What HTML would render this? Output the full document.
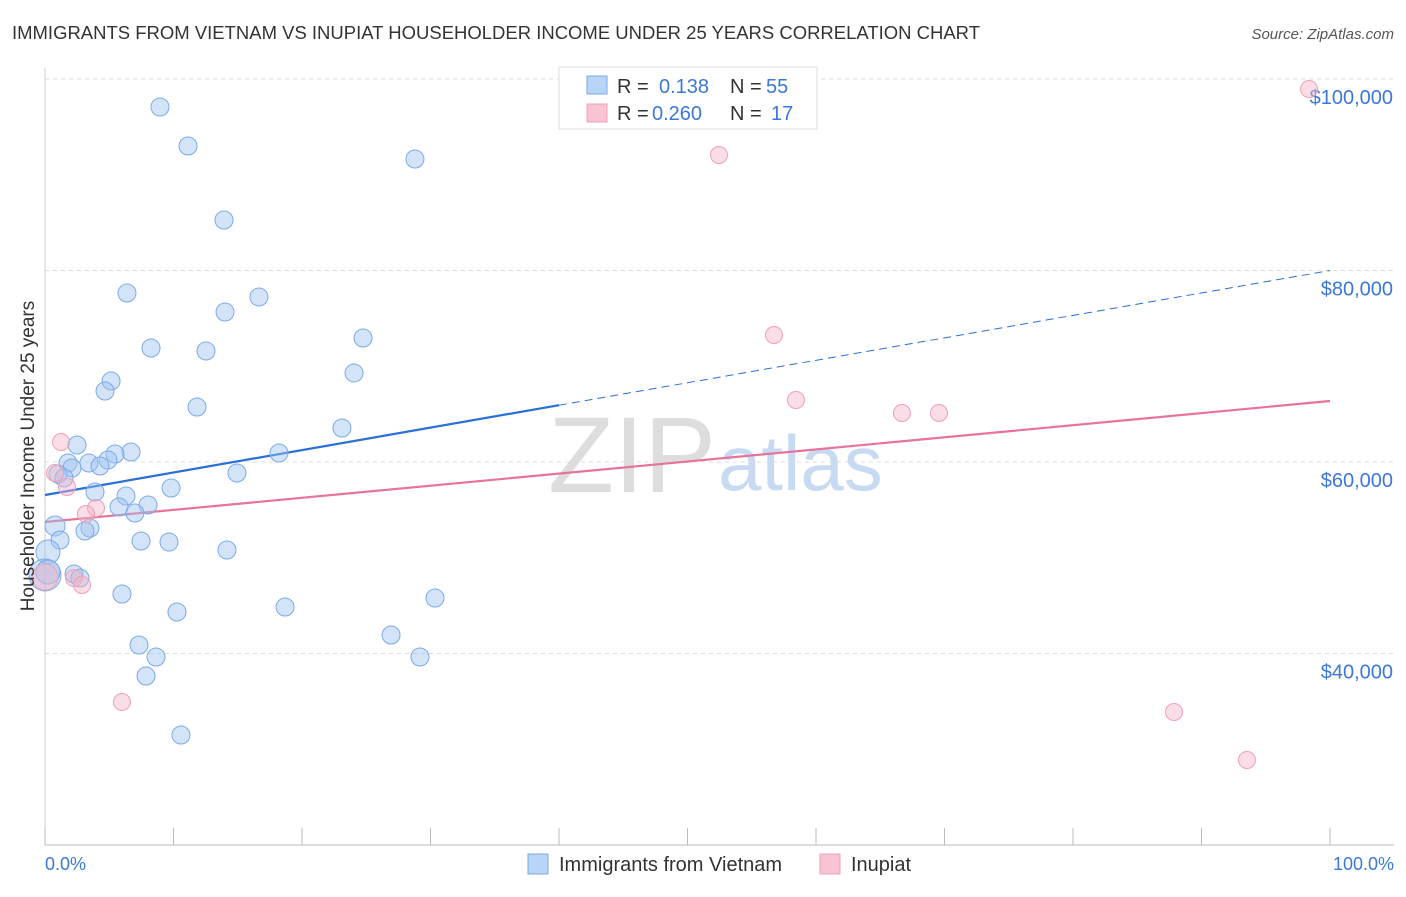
<!DOCTYPE html>
<html><head><meta charset="utf-8"><style>
body{margin:0;background:#fff;font-family:"Liberation Sans",sans-serif;}
svg text{font-family:"Liberation Sans",sans-serif;}
</style></head><body>
<svg id="chart" width="1406" height="892" viewBox="0 0 1406 892" xmlns="http://www.w3.org/2000/svg">
<text x="12" y="39" font-size="18" fill="#333" textLength="968" lengthAdjust="spacingAndGlyphs">IMMIGRANTS FROM VIETNAM VS INUPIAT HOUSEHOLDER INCOME UNDER 25 YEARS CORRELATION CHART</text>
<text x="1394" y="39" font-size="15" fill="#555" font-style="italic" text-anchor="end">Source: ZipAtlas.com</text>
<text x="716" y="492" font-size="108" fill="#ddd" font-family="Liberation Serif" text-anchor="end">ZIP</text>
<text x="718" y="490" font-size="78" fill="#c8daf2">atlas</text>
<g id="grid"></g>
<g id="axes"></g>
<g id="lines"></g>
<g id="points"></g>
<text transform="translate(34,456) rotate(-90)" font-size="19" fill="#333" text-anchor="middle">Householder Income Under 25 years</text>
<text x="45" y="870" font-size="18" fill="#3b78d8">0.0%</text>
<text x="1394" y="870" font-size="18" fill="#3b78d8" text-anchor="end">100.0%</text>
<g>
<rect x="559" y="67" width="258" height="62" fill="#fff" stroke="#ddd"/>
<rect x="587" y="76" width="20" height="18" fill="#b8d4f6" stroke="#7aaae8"/>
<text x="617" y="93" font-size="20" fill="#333">R = </text><text x="659" y="93" font-size="20" fill="#3b78d8">0.138</text>
<text x="730" y="93" font-size="20" fill="#333">N = </text><text x="766" y="93" font-size="20" fill="#3b78d8">55</text>
<rect x="587" y="104" width="20" height="18" fill="#f8c4d4" stroke="#eea0b8"/>
<text x="617" y="120" font-size="20" fill="#333">R = </text><text x="652" y="120" font-size="20" fill="#3b78d8">0.260</text>
<text x="730" y="120" font-size="20" fill="#333">N = </text><text x="771" y="120" font-size="20" fill="#3b78d8">17</text>
</g>
<g>
<rect x="528" y="854" width="20" height="20" fill="#b8d4f6" stroke="#7aaae8"/>
<text x="559" y="871" font-size="20" fill="#333">Immigrants from Vietnam</text>
<rect x="820" y="854" width="20" height="20" fill="#f8c4d4" stroke="#eea0b8"/>
<text x="851" y="871" font-size="20" fill="#333">Inupiat</text>
</g>
</svg>
<script>
const yTicks=[40000,60000,80000,100000];
const yTickLabels=["$40,000","$60,000","$80,000","$100,000"];
const xTicks=[0,10,20,30,40,50,60,70,80,90,100];
const blueX=[8.95,11.13,28.79,13.93,6.38,16.65,14.01,24.75,8.25,12.53,24.05,5.14,4.67,11.83,23.11,2.49,6.69,5.45,18.21,4.90,1.79,3.42,4.28,2.10,1.01,14.94,9.81,3.89,6.30,8.02,5.76,7.00,0.78,3.50,3.11,1.17,7.47,9.65,14.16,0.23,0,2.26,2.72,5.99,30.35,10.27,18.68,26.93,7.32,8.64,29.18,7.86,10.58,0.23,1.48];
const blueY=[97076,93003,91645,85274,77650,77232,75666,72950,71906,71593,69295,68460,67415,65744,63551,61775,61044,60836,60940,60209,59896,59896,59582,59373,58747,58851,57285,56867,56449,55509,55300,54673,53316,53107,52793,51853,51749,51644,50809,50600,48198,48302,47884,46213,45795,44333,44855,41931,40887,39634,39634,37649,31487,48511,58329];
const pinkX=[98.37,52.45,56.73,58.44,66.69,69.57,1.25,0.78,1.71,3.97,3.19,2.26,2.88,0,5.99,87.86,93.54];
const pinkY=[98956,92062,73263,66475,65117,65117,62088,58851,57389,55196,54569,47884,47153,47989,34934,33890,28877];
const blueTrend=[56554,80000];
const pinkTrend=[53734,66371];
const blueSolidEnd=40;
const NS="http://www.w3.org/2000/svg";
const xs=p=>45+p*12.85;
const ys=v=>79+(100000-v)/104.44;
function mk(tag,attrs,parent){const e=document.createElementNS(NS,tag);for(const k in attrs)e.setAttribute(k,attrs[k]);document.getElementById(parent).appendChild(e);return e;}
yTicks.forEach((v,i)=>{
  const l=mk('line',{x1:45,x2:1394,y1:ys(v),y2:ys(v),stroke:'#ddd','stroke-dasharray':'4,4'},'grid');
  
  
  const t=mk('text',{x:1393,y:ys(v)+25,'font-size':20,fill:'#3b78d8','text-anchor':'end'},'axes');
  t.textContent=yTickLabels[i];
  
  
});
const ax=mk('line',{x1:45,x2:1394,y1:845,y2:845,stroke:'#bbb'},'axes');


const ay=mk('line',{x1:45,x2:45,y1:68,y2:845,stroke:'#ccc'},'axes');


xTicks.forEach(p=>{
  const t=mk('line',{x1:xs(p),x2:xs(p),y1:828,y2:845,stroke:'#bbb'},'axes');
  
  
});
const trendY=(tr,p)=>tr[0]+(tr[1]-tr[0])*p/100;
let l1=mk('line',{x1:xs(0),y1:ys(trendY(blueTrend,0)),x2:xs(blueSolidEnd),y2:ys(trendY(blueTrend,blueSolidEnd)),stroke:'#2a6fd6','stroke-width':2.2},'lines');


let l2=mk('line',{x1:xs(blueSolidEnd),y1:ys(trendY(blueTrend,blueSolidEnd)),x2:xs(100),y2:ys(trendY(blueTrend,100)),stroke:'#2a6fd6','stroke-width':1,'stroke-dasharray':'8,5'},'lines');


let l3=mk('line',{x1:xs(0),y1:ys(trendY(pinkTrend,0)),x2:xs(100),y2:ys(trendY(pinkTrend,100)),stroke:'#e8739a','stroke-width':2.2},'lines');


blueX.forEach((p,i)=>{
  let r=9; if(p===0) r=16; else if(p<0.5) r=12; else if(p<0.9) r=10;
  const c=mk('circle',{cx:xs(p),cy:ys(blueY[i]),r:r,fill:'rgba(160,196,240,0.45)',stroke:'#7aaae8','stroke-width':1},'points');
  
  
});
pinkX.forEach((p,i)=>{
  const r=p===0?13:8.5;
  const c=mk('circle',{cx:xs(p),cy:ys(pinkY[i]),r:r,fill:'rgba(245,180,200,0.45)',stroke:'#eea0b8','stroke-width':1},'points');
  
  
});
</script>
</body></html>
